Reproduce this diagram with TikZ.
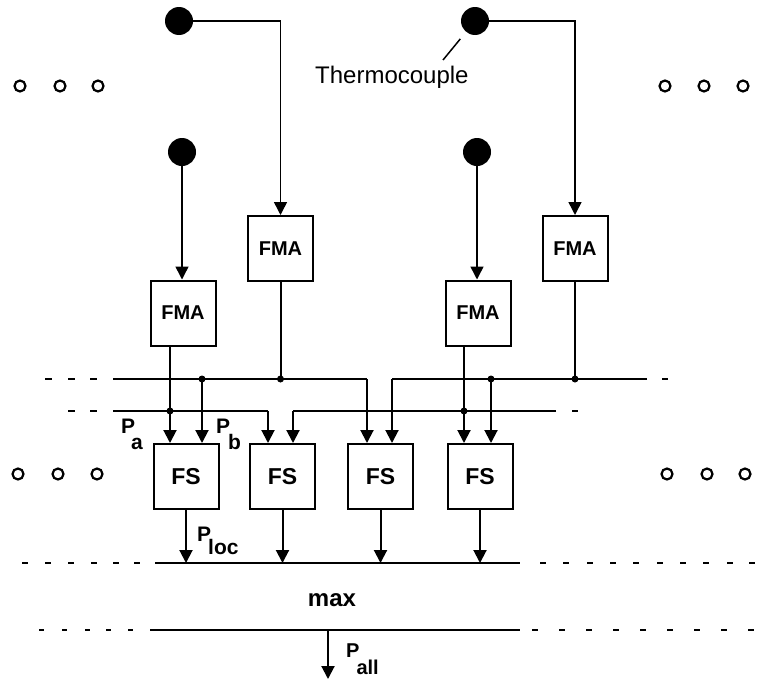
\documentclass[tikz,border=0pt]{standalone}
\usepackage{fontspec}
\setmainfont{Liberation Sans}
\usetikzlibrary{arrows.meta}
\begin{document}
\begin{tikzpicture}[x=1pt,y=-1pt,
  wire/.style={line width=1.5pt},
  conn/.style={line width=2pt},
  bus/.style={line width=2.6pt},
  arr/.style={-{Triangle[width=13pt,length=13pt]}},
  blk/.style={draw,line width=2pt,minimum width=65pt,minimum height=65pt,inner sep=0pt,font=\bfseries\fontsize{20}{20}\selectfont},
  fsblk/.style={blk,font=\bfseries\fontsize{23}{23}\selectfont},
  tc/.style={circle,fill,minimum size=28pt,inner sep=0pt},
  ring/.style={circle,draw,line width=2.2pt,minimum size=11pt,inner sep=0pt},
  jdot/.style={circle,fill,minimum size=7pt,inner sep=0pt},
  lbl/.style={font=\bfseries\fontsize{21}{21}\selectfont,inner sep=0pt},
  dsh/.style={line width=2.6pt}
]
\useasboundingbox (0,0) rectangle (759,680);

% thermocouples
\node[tc] (tc1) at (179,21) {};
\node[tc] (tc2) at (182,152) {};
\node[tc] (tc3) at (475,21) {};
\node[tc] (tc4) at (477,152) {};

% FMA blocks
\node[blk] (fma1) at (183,313) {FMA};
\node[blk] (fma2) at (280.5,248.5) {FMA};
\node[blk] (fma3) at (478,313) {FMA};
\node[blk] (fma4) at (575,248.5) {FMA};

% FS blocks
\node[fsblk] (fs1) at (186,476.5) {FS};
\node[fsblk] (fs2) at (282.5,476.5) {FS};
\node[fsblk] (fs3) at (380.5,476.5) {FS};
\node[fsblk] (fs4) at (480,476.5) {FS};

% label
\node[anchor=base west,inner sep=0pt,font=\fontsize{24}{24}\selectfont] (thlab) at (315,83) {Thermocouple};
\coordinate (lead) at (443,60);
\draw[wire,shorten >=9pt] (lead) -- (tc3);

% thermocouple wires
\draw[wire,arr] (tc1.east) -| (fma2.north);
\draw[wire,arr] (tc2.south) -- (tc2.south |- fma1.north);
\draw[wire,arr] (tc3.east) -| (fma4.north);
\draw[wire,arr] (tc4.south) -- (tc4.south |- fma3.north);

% vertical positions
\coordinate (xa) at (170,0);
\coordinate (xb) at (202,0);
\coordinate (xc) at (268,0);
\coordinate (xd) at (293,0);
\coordinate (xe) at (367,0);
\coordinate (xf) at (392,0);
\coordinate (xg) at (464,0);
\coordinate (xh) at (491,0);

% buses
\coordinate (ubA) at (113,379);
\coordinate (ubB) at (367,379);
\coordinate (ubC) at (392,379);
\coordinate (ubD) at (647,379);
\coordinate (lbA) at (113,411);
\coordinate (lbB) at (268,411);
\coordinate (lbC) at (293,411);
\coordinate (lbD) at (556,411);

\draw[bus] (ubA) -- (ubB);
\draw[conn,arr] (ubB) -- (ubB |- fs3.north);
\draw[bus] (ubD) -- (ubC);
\draw[conn,arr] (ubC) -- (ubC |- fs3.north);
\draw[bus] (lbA) -- (lbB);
\draw[conn,arr] (lbB) -- (lbB |- fs2.north);
\draw[bus] (lbD) -- (lbC);
\draw[conn,arr] (lbC) -- (lbC |- fs2.north);

% FMA outputs and taps
\draw[conn,arr] (fma1.south -| xa) -- (fs1.north -| xa);
\draw[conn,arr] (xb |- ubA) -- (fs1.north -| xb);
\draw[conn] (fma2.south) -- (fma2.south |- ubA);
\draw[conn,arr] (fma3.south -| xg) -- (fs4.north -| xg);
\draw[conn,arr] (xh |- ubA) -- (fs4.north -| xh);
\draw[conn] (fma4.south) -- (fma4.south |- ubA);

\node[jdot] (j1) at (xa |- lbA) {};
\node[jdot] (j2) at (xb |- ubA) {};
\node[jdot] (j3) at (fma2.south |- ubA) {};
\node[jdot] (j4) at (xg |- lbA) {};
\node[jdot] (j5) at (xh |- ubA) {};
\node[jdot] (j6) at (fma4.south |- ubA) {};

% max input line
\coordinate (mA) at (155,563);
\coordinate (mB) at (520,563);
\draw[bus] (mA) -- (mB);
\draw[conn,arr] (fs1.south) -- (fs1.south |- mA);
\draw[conn,arr] (fs2.south) -- (fs2.south |- mA);
\draw[conn,arr] (fs3.south) -- (fs3.south |- mA);
\draw[conn,arr] (fs4.south) -- (fs4.south |- mA);

\node[font=\bfseries\fontsize{24}{24}\selectfont,inner sep=0pt] (maxlab) at (332,600) {max};

% max output line
\coordinate (oA) at (150,630);
\coordinate (oB) at (520,630);
\coordinate (oT) at (328,630);
\coordinate (oE) at (328,679);
\draw[bus] (oA) -- (oB);
\draw[conn,arr] (oT) -- (oE);

% labels
\node[lbl,anchor=base west] (pa) at (121,433) {P\kern-4pt\raisebox{-16pt}{a}};
\node[lbl,anchor=base west] (pb) at (216,433) {P\kern-2pt\raisebox{-16pt}{b}};
\node[lbl,anchor=base west] (ploc) at (197,541) {P\kern-3pt\raisebox{-13pt}{loc}};
\node[lbl,anchor=base west,font=\bfseries\fontsize{20}{20}\selectfont] (pall) at (346,657) {P\kern-3pt\raisebox{-17pt}{all}};

% ellipsis rings
\foreach \x/\n in {20/a,60/b,98/c} \node[ring] (rl\n) at (\x,86) {};
\foreach \x/\n in {665/a,704/b,743/c} \node[ring] (rr\n) at (\x,86) {};
\foreach \x/\n in {18/a,58/b,97/c} \node[ring] (ml\n) at (\x,474) {};
\foreach \x/\n in {667/a,707/b,745/c} \node[ring] (mr\n) at (\x,474) {};

% continuation dashes
\foreach \x in {45,68,90} \draw[dsh] (\x,379) -- ++(7,0);
\draw[dsh] (662,379) -- ++(6,0);
\foreach \x in {68,90} \draw[dsh] (\x,411) -- ++(7,0);
\draw[dsh] (572,411) -- ++(6,0);
\foreach \x in {22,45,68,91,113,134} \draw[dsh] (\x,563) -- ++(6,0);
\foreach \x in {540,563,587,610,633,657,680,703,727,749} \draw[dsh] (\x,563) -- ++(6,0);
\foreach \x in {39,62,85,106,128} \draw[dsh] (\x,630) -- ++(5,0);
\foreach \x in {532,559,586,613,640,667,694,721,748} \draw[dsh] (\x,630) -- ++(6,0);
\end{tikzpicture}
\end{document}
